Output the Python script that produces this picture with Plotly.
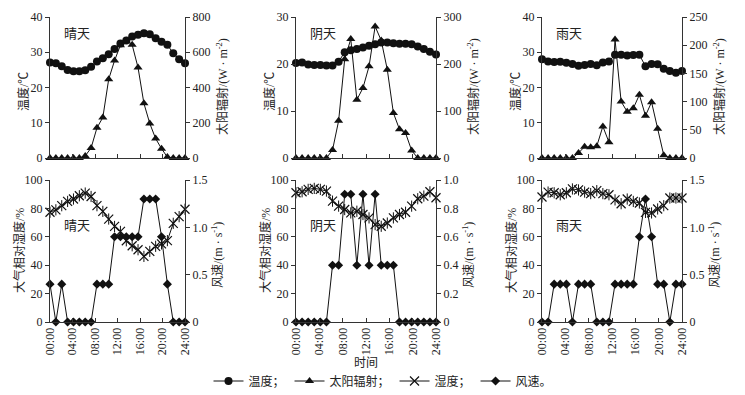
import plotly.graph_objects as go

W, H = 745, 395

# ---------------- data (hourly observations, 24 per day) ----------------
hours = [i * 24 / 23 for i in range(24)]
x_tickvals = [0, 4, 8, 12, 16, 20, 24]
x_ticktext = ["00:00", "04:00", "08:00", "12:00", "16:00", "20:00", "24:00"]

sunny_temp = [27.1, 26.9, 26.0, 25.0, 24.6, 24.6, 24.9, 25.9, 27.4, 28.3, 29.4, 30.9,
              32.5, 33.3, 34.5, 35.0, 35.4, 35.1, 34.0, 33.0, 32.1, 29.7, 28.0, 26.9]
sunny_rad = [0, 0, 0, 0, 0, 0, 12, 57, 171, 230, 447, 553,
             640, 665, 642, 513, 310, 196, 110, 53, 5, 0, 0, 0]
cloudy_temp = [20.2, 20.3, 19.9, 19.8, 19.8, 19.7, 19.7, 20.5, 22.5, 22.9, 23.2, 23.5,
               23.9, 24.2, 24.6, 24.6, 24.4, 24.3, 24.3, 24.2, 23.7, 23.2, 22.6, 22.0]
cloudy_rad = [0, 0, 0, 0, 0, 0, 17, 79, 210, 253, 124, 149,
              195, 280, 250, 188, 96, 61, 53, 16, 0, 0, 0, 0]
rainy_temp = [28.0, 27.4, 27.2, 27.3, 27.0, 26.7, 26.2, 26.4, 26.7, 26.3, 27.1, 27.4,
              29.3, 29.3, 29.1, 29.2, 29.3, 26.0, 26.7, 26.6, 25.3, 24.7, 24.2, 24.7]
rainy_rad = [0, 0, 0, 0, 0, 0, 9, 20, 19, 21, 56, 28,
             210, 100, 82, 88, 112, 75, 99, 52, 5, 0, 0, 0]

sunny_hum = [77.3, 79.0, 81.9, 84.9, 86.6, 88.9, 90.8, 88.4, 81.9, 77.9, 72.5, 67.3,
             63.8, 57.2, 53.7, 50.9, 46.2, 49.7, 53.3, 55.0, 57.3, 69.5, 74.2, 79.4]
sunny_wind = [0.4, 0, 0.4, 0, 0, 0, 0, 0, 0.4, 0.4, 0.4, 0.9,
              0.9, 0.9, 0.9, 0.9, 1.3, 1.3, 1.3, 0.9, 0.4, 0, 0, 0]
cloudy_hum = [91.0, 91.7, 93.4, 94.1, 93.4, 92.2, 85.1, 81.6, 79.2, 76.8, 78.0, 75.7,
              73.3, 68.6, 67.4, 69.7, 73.3, 75.7, 77.3, 81.6, 86.8, 88.7, 91.7, 87.5]
cloudy_wind = [0, 0, 0, 0, 0, 0, 0.4, 0.4, 0.9, 0.9, 0.4, 0.9,
               0.4, 0.9, 0.4, 0.4, 0.4, 0, 0, 0, 0, 0, 0, 0]
rainy_hum = [88.0, 91.5, 91.0, 89.6, 91.0, 93.7, 93.0, 91.5, 90.4, 92.5, 90.4, 89.6,
             86.0, 83.3, 86.6, 84.9, 83.8, 77.2, 76.8, 79.6, 81.9, 87.3, 87.3, 87.3]
rainy_wind = [0, 0, 0.4, 0.4, 0.4, 0, 0.4, 0.4, 0.4, 0, 0, 0,
              0.4, 0.4, 0.4, 0.4, 0.9, 1.3, 0.9, 0.4, 0.4, 0, 0.4, 0.4]

weather_labels = ["晴天", "阴天", "雨天"]
legend_names = ["温度；", "太阳辐射；", "湿度；", "风速。"]

# ---------------- styling ----------------
FONT = "Liberation Serif, Noto Sans CJK SC"
INK = "#222222"
AXC = "#333333"

col_px = [(50, 185), (296, 436), (542, 682)]
row_px = [(17, 158), (180, 322)]


def xd(a, b):
    return [a / W, b / W]


def yd(t, b):
    return [1 - b / H, 1 - t / H]


panels = [
    # top row
    dict(left=sunny_temp, right=sunny_rad, lr=[0, 40], ldt=10, rr=[0, 800], rtv=[0, 200, 400, 600, 800], rtt=None),
    dict(left=cloudy_temp, right=cloudy_rad, lr=[0, 30], ldt=10, rr=[0, 300], rtv=[0, 100, 200, 300], rtt=None),
    dict(left=rainy_temp, right=rainy_rad, lr=[0, 40], ldt=10, rr=[0, 250], rtv=[0, 50, 100, 150, 200, 250], rtt=None),
    # bottom row
    dict(left=sunny_hum, right=sunny_wind, lr=[0, 100], ldt=20, rr=[0, 1.5], rtv=[0, 0.5, 1.0, 1.5], rtt=["0", "0.5", "1.0", "1.5"]),
    dict(left=cloudy_hum, right=cloudy_wind, lr=[0, 100], ldt=20, rr=[0, 1.0], rtv=[0, 0.2, 0.4, 0.6, 0.8, 1.0], rtt=["0", "0.2", "0.4", "0.6", "0.8", "1.0"]),
    dict(left=rainy_hum, right=rainy_wind, lr=[0, 100], ldt=20, rr=[0, 1.5], rtv=[0, 0.5, 1.0, 1.5], rtt=["0", "0.5", "1.0", "1.5"]),
]

fig = go.Figure()
layout = {}
annotations = []

for k, p in enumerate(panels):
    row = 0 if k < 3 else 1
    col = k % 3
    xn = k + 1
    yl = 2 * k + 1
    yr = 2 * k + 2
    xid = "x" if xn == 1 else f"x{xn}"
    ylid = "y" if yl == 1 else f"y{yl}"
    yrid = f"y{yr}"
    xkey = "xaxis" if xn == 1 else f"xaxis{xn}"
    ylkey = "yaxis" if yl == 1 else f"yaxis{yl}"
    yrkey = f"yaxis{yr}"

    c0, c1 = col_px[col]
    r0, r1 = row_px[row]

    layout[xkey] = dict(
        domain=xd(c0, c1), anchor=ylid, range=[0, 24],
        tickvals=x_tickvals, ticktext=x_ticktext,
        showticklabels=(row == 1), tickangle=-90,
        ticks="inside", ticklen=4, tickcolor=AXC,
        showline=True, linecolor=AXC, linewidth=1,
        showgrid=False, zeroline=False, automargin=False,
        tickfont=dict(family=FONT, size=12, color=INK),
    )
    layout[ylkey] = dict(
        domain=yd(r0, r1), anchor=xid, range=p["lr"], dtick=p["ldt"], tick0=0,
        ticks="outside", ticklen=4, tickcolor=AXC,
        showline=True, linecolor=AXC, linewidth=1,
        showgrid=False, zeroline=False, automargin=False,
        tickfont=dict(family=FONT, size=12, color=INK),
    )
    ry = dict(
        overlaying=ylid, side="right", anchor=xid, range=p["rr"],
        tickvals=p["rtv"],
        ticks="outside", ticklen=4, tickcolor=AXC,
        showline=True, linecolor=AXC, linewidth=1,
        showgrid=False, zeroline=False, automargin=False,
        tickfont=dict(family=FONT, size=12, color=INK),
    )
    if p["rtt"] is not None:
        ry["ticktext"] = p["rtt"]
    layout[yrkey] = ry

    if row == 0:
        fig.add_trace(go.Scatter(
            x=hours, y=p["left"], xaxis=xid, yaxis=ylid, mode="lines+markers",
            name=legend_names[0], showlegend=(k == 0), cliponaxis=False,
            line=dict(color="#111", width=1),
            marker=dict(symbol="circle", size=8, color="#111")))
        fig.add_trace(go.Scatter(
            x=hours, y=p["right"], xaxis=xid, yaxis=yrid, mode="lines+markers",
            name=legend_names[1], showlegend=(k == 0), cliponaxis=False,
            line=dict(color="#111", width=1),
            marker=dict(symbol="triangle-up", size=8, color="#111")))
    else:
        fig.add_trace(go.Scatter(
            x=hours, y=p["left"], xaxis=xid, yaxis=ylid, mode="lines+markers",
            name=legend_names[2], showlegend=(k == 3), cliponaxis=False,
            line=dict(color="#111", width=1),
            marker=dict(symbol="x-thin-open", size=9, color="#111",
                        line=dict(color="#111", width=1.2))))
        fig.add_trace(go.Scatter(
            x=hours, y=p["left"], xaxis=xid, yaxis=ylid, mode="markers",
            showlegend=False, cliponaxis=False, hoverinfo="skip",
            marker=dict(symbol="line-ns-open", size=8, color="#111",
                        line=dict(color="#111", width=1))))
        fig.add_trace(go.Scatter(
            x=hours, y=p["right"], xaxis=xid, yaxis=yrid, mode="lines+markers",
            name=legend_names[3], showlegend=(k == 3), cliponaxis=False,
            line=dict(color="#111", width=1),
            marker=dict(symbol="diamond", size=7, color="#111")))

    # weather label inside panel
    lab_y = 33 if row == 0 else 225
    annotations.append(dict(
        text=weather_labels[col], xref="paper", yref="paper",
        x=(c0 + 27) / W, y=1 - lab_y / H, xanchor="center", yanchor="middle",
        showarrow=False, font=dict(family=FONT, size=13, color=INK)))

    # axis titles
    if row == 0:
        lt, lx, ly = "温度/℃", c0 - 27, 92
        rt, rx, ry_ = "太阳辐射/(W · m<sup>-2</sup>)", c1 + 37, 87
    else:
        lt, lx, ly = "大气相对湿度/%", c0 - 30, 251
        rt, rx, ry_ = "风速/(m · s<sup>-1</sup>)", c1 + 32, 255
    annotations.append(dict(
        text=lt, xref="paper", yref="paper", x=lx / W, y=1 - ly / H,
        xanchor="center", yanchor="middle", textangle=-90, showarrow=False,
        font=dict(family=FONT, size=12, color=INK)))
    annotations.append(dict(
        text=rt, xref="paper", yref="paper", x=rx / W, y=1 - ry_ / H,
        xanchor="center", yanchor="middle", textangle=-90, showarrow=False,
        font=dict(family=FONT, size=12, color=INK)))

annotations.append(dict(
    text="时间", xref="paper", yref="paper", x=366 / W, y=1 - 363 / H,
    xanchor="center", yanchor="middle", showarrow=False,
    font=dict(family=FONT, size=12, color=INK)))

fig.update_layout(
    width=W, height=H,
    margin=dict(l=0, r=0, t=0, b=0, pad=0, autoexpand=False),
    paper_bgcolor="white", plot_bgcolor="white",
    showlegend=True,
    legend=dict(orientation="h", x=383 / W, xanchor="center",
                y=1 - 381 / H, yanchor="middle",
                font=dict(family=FONT, size=12, color=INK),
                itemwidth=30, bgcolor="rgba(0,0,0,0)", tracegroupgap=0),
    annotations=annotations,
    **layout,
)

fig.write_html(
    "out.html",
    config={"displayModeBar": False},
    post_script="document.body.style.margin='0';document.body.style.overflow='hidden';",
)
